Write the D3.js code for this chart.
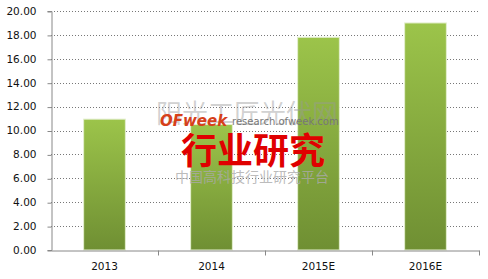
<!DOCTYPE html>
<html><head><meta charset="utf-8">
<script src="https://cdn.jsdelivr.net/npm/d3@7"></script>
<style>body{margin:0;background:#fff;}svg{display:block;}</style>
</head><body>
<script>
const categories = ["2013", "2014", "2015E", "2016E"];
const values = [10.95, 10.5, 17.8, 19.0];
const yTicks = [0, 2, 4, 6, 8, 10, 12, 14, 16, 18, 20];

const W = 488, H = 279;
const m = {left: 51, right: 9, top: 11, bottom: 29};
const svg = d3.select("body").append("svg").attr("width", W).attr("height", H);

const x = d3.scaleBand().domain(categories).range([m.left, W - m.right]).paddingInner(0.61).paddingOuter(0.305);
const xb = d3.scaleBand().domain(categories).range([m.left, W - m.right]);
const y = d3.scaleLinear().domain([0, 20]).range([H - m.bottom, m.top]);

const defs = svg.append("defs");
const g = defs.append("linearGradient").attr("id", "bg").attr("x1", 0).attr("y1", 0).attr("x2", 0).attr("y2", 1);
g.append("stop").attr("offset", "0%").attr("stop-color", "#9cc44a");
g.append("stop").attr("offset", "100%").attr("stop-color", "#6f8f33");

// gridlines
svg.append("g").selectAll("line").data(yTicks.filter(d => d > 0)).join("line")
  .attr("x1", m.left).attr("x2", W - m.right)
  .attr("y1", d => Math.round(y(d)) + 0.5).attr("y2", d => Math.round(y(d)) + 0.5)
  .attr("stroke", "#777").attr("stroke-width", 1).attr("stroke-dasharray", "1,2");

// bars
svg.append("g").selectAll("rect").data(values).join("rect")
  .attr("x", (d, i) => x(categories[i]))
  .attr("width", x.bandwidth())
  .attr("y", d => y(d))
  .attr("height", d => y(0) - y(d))
  .attr("fill", "url(#bg)")
  .attr("stroke", "#e4efcf").attr("stroke-width", 1);

// y axis
const ya = svg.append("g").attr("transform", `translate(${m.left + 0.5},0)`)
  .call(d3.axisLeft(y).tickValues(yTicks).tickFormat(d3.format(".2f")).tickSize(4).tickPadding(11));
ya.select(".domain").attr("stroke", "#888");
ya.selectAll(".tick line").attr("stroke", "#888").attr("transform", "translate(0,0.5)");
ya.selectAll("text").attr("font-family", "DejaVu Sans, sans-serif").attr("font-size", "10.5px").attr("fill", "#111");

// x axis
const xa = svg.append("g").attr("transform", `translate(0,${Math.round(y(0)) + 0.5})`)
  .call(d3.axisBottom(xb).tickSize(0).tickPadding(12));
xa.select(".domain").attr("stroke", "#888");
xa.selectAll("text").attr("font-family", "DejaVu Sans, sans-serif").attr("font-size", "10.5px").attr("fill", "#111");
// category boundary ticks
xa.append("g").selectAll("line").data(categories).join("line")
  .attr("x1", d => Math.round(xb(d) + xb.bandwidth()) + 0.5).attr("x2", d => Math.round(xb(d) + xb.bandwidth()) + 0.5)
  .attr("y1", 0).attr("y2", 5).attr("stroke", "#888");

// watermark
const wm = svg.append("g").attr("font-family", "Noto Sans CJK SC, sans-serif");
wm.append("text").attr("x", 247).attr("y", 123).attr("text-anchor", "middle")
  .attr("font-size", "26px").attr("fill", "#999").attr("fill-opacity", 0.45).text("阳光工匠光伏网");
wm.append("text").attr("x", 160).attr("y", 126).attr("font-family", "DejaVu Sans, sans-serif")
  .attr("font-size", "15px").attr("font-weight", "bold").attr("font-style", "italic").attr("fill", "#d6401a").text("OFweek");
wm.append("text").attr("x", 232).attr("y", 125).attr("font-family", "DejaVu Sans, sans-serif")
  .attr("font-size", "10px").attr("fill", "#777").text("research.ofweek.com");
wm.append("text").attr("x", 253).attr("y", 164).attr("text-anchor", "middle")
  .attr("font-size", "36px").attr("font-weight", "bold").attr("fill", "#e00000").text("行业研究");
wm.append("text").attr("x", 252).attr("y", 182).attr("text-anchor", "middle")
  .attr("font-size", "14px").attr("fill", "#aaa").attr("fill-opacity", 0.8).text("中国高科技行业研究平台");
</script>
</body></html>
